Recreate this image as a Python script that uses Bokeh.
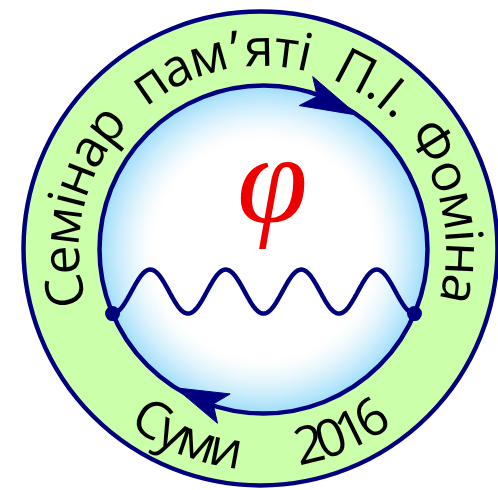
import numpy as np
from bokeh.plotting import figure
from bokeh.models import Range1d
from bokeh.core.properties import value
from bokeh.embed import file_html
from bokeh.resources import INLINE

# ---------------- values (image px, y downward) ----------------
outer_center = (260, 248)
outer_radius = 237
inner_center = (263, 249)
inner_radius = 164
text_center = (262, 249)

top_text = "Семінар  пам’яті  П.І. \u2009Фоміна"
top_angles = (192.0, -11.5)          # centre angle of first / last letter (deg)
top_anchor_r = 204

bottom_words = ["Суми", "2016"]
bottom_angles = [(236.8, 259.7), (283.5, 302.8)]
bottom_anchor_r = 200

vertex_drop_deg = 23                 # dots below the horizontal diameter
wave_periods = 4
wave_amplitude = 22

arrow_tip_deg = [55.0, 237.5]
arrow_back_deg = [75.0, 256.0]

phi_text = "φ"
phi_pos = (272, 178)

# ---------------- styling ----------------
NAVY = "#00007f"
GREEN = "#ccffaa"
FONT = "Open Sans"
FONT_PX = 52
W_PX, H_PX = 498, 490

# Open Sans advance widths (em) for laying letters along the arcs
adv = {" ": .26, "\u2009": .11, "С": .631, "е": .561, "м": .738, "і": .253, "н": .618,
       "а": .556, "р": .613, "п": .614, "’": .33, "я": .561, "т": .471, "П": .737,
       ".": .266, "І": .303, "Ф": .83, "о": .604, "у": .501, "и": .63}
for d in "0123456789":
    adv[d] = .572


def Y(y_img):
    return H_PX - y_img


p = figure(width=W_PX, height=H_PX, x_range=Range1d(0, W_PX), y_range=Range1d(0, H_PX),
           output_backend="svg", toolbar_location=None, min_border=0)
p.axis.visible = False
p.grid.visible = False
p.outline_line_color = None
p.background_fill_color = "white"
p.border_fill_color = "white"

# outer green ring
p.circle(x=[outer_center[0]], y=[Y(outer_center[1])], radius=outer_radius,
         fill_color=GREEN, line_color=NAVY, line_width=4.5)

# inner radial gradient (light blue edge -> white centre)
edge = np.array([160, 222, 250])
radii = np.arange(inner_radius, 100, -2.0)
cols = []
for r in radii:
    t = np.clip((r - 110) / (inner_radius - 110), 0, 1) ** 1.5
    c = (255 * (1 - t) + edge * t).astype(int)
    cols.append("#%02x%02x%02x" % tuple(c))
p.circle(x=[inner_center[0]] * len(radii), y=[Y(inner_center[1])] * len(radii),
         radius=list(radii), fill_color=cols, line_color=None)

# inner circle line
p.circle(x=[inner_center[0]], y=[Y(inner_center[1])], radius=inner_radius,
         fill_color=None, line_color=NAVY, line_width=4.5)

# vertices
icx, icy = inner_center[0], Y(inner_center[1])
a_l = np.radians(180 + vertex_drop_deg)
a_r = np.radians(-vertex_drop_deg)
xl, yl = icx + inner_radius * np.cos(a_l), icy + inner_radius * np.sin(a_l)
xr, yr = icx + inner_radius * np.cos(a_r), icy + inner_radius * np.sin(a_r)

# photon wave
wx = np.linspace(xl, xr, 400)
wt = (wx - xl) / (xr - xl)
wy = yl + wave_amplitude * (1 - np.cos(2 * np.pi * wave_periods * wt))
p.line(wx, wy, line_color=NAVY, line_width=4.5)

p.circle(x=[xl, xr], y=[yl, yr], radius=7.5, fill_color=NAVY, line_color=None)

# arrow heads (clockwise)
axs, ays = [], []
for tip, back in zip(arrow_tip_deg, arrow_back_deg):
    T = np.array([icx + inner_radius * np.cos(np.radians(tip)), icy + inner_radius * np.sin(np.radians(tip))])
    B = np.array([icx + inner_radius * np.cos(np.radians(back)), icy + inner_radius * np.sin(np.radians(back))])
    d = (T - B) / np.linalg.norm(T - B)
    n = np.array([-d[1], d[0]])
    b1 = B + 16 * n
    b2 = B - 16 * n
    notch = B + 0.22 * (T - B)
    pts = [T, b1, notch, b2]
    axs.append([q[0] for q in pts])
    ays.append([q[1] for q in pts])
p.patches(axs, ays, fill_color=NAVY, line_color=NAVY, line_width=1)

# letters along arcs
tcx, tcy = text_center[0], Y(text_center[1])


def lay(chars, a0, a1, r, top):
    w = [adv.get(c, .55) for c in chars]
    cen = np.cumsum(w) - np.array(w) / 2
    t = (cen - cen[0]) / (cen[-1] - cen[0])
    ang = a0 + (a1 - a0) * t
    xs, ys, tx, rot = [], [], [], []
    for c, a in zip(chars, ang):
        if c.isspace():
            continue
        ar = np.radians(a)
        xs.append(tcx + r * np.cos(ar))
        ys.append(tcy + r * np.sin(ar))
        tx.append(c)
        rot.append(ar - np.pi / 2 if top else ar + np.pi / 2)
    return xs, ys, tx, rot


X, Yv, T, R = lay(top_text, top_angles[0], top_angles[1], top_anchor_r, True)
for word, (a0, a1) in zip(bottom_words, bottom_angles):
    x2, y2, t2, r2 = lay(word, a0, a1, bottom_anchor_r, False)
    X += x2; Yv += y2; T += t2; R += r2

p.text(x=X, y=Yv, text=T, angle=R, text_font=value(FONT),
       text_font_size=value(f"{FONT_PX}px"), text_align="center",
       text_baseline="alphabetic", text_color="black")

# phi
p.text(x=[phi_pos[0]], y=[Y(phi_pos[1])], text=[phi_text], text_font=value("Liberation Serif"),
       text_font_style="italic", text_font_size=value("128px"), text_align="center",
       text_baseline="alphabetic", text_color="#ee0000")

open("out.html", "w").write(file_html(p, INLINE))
